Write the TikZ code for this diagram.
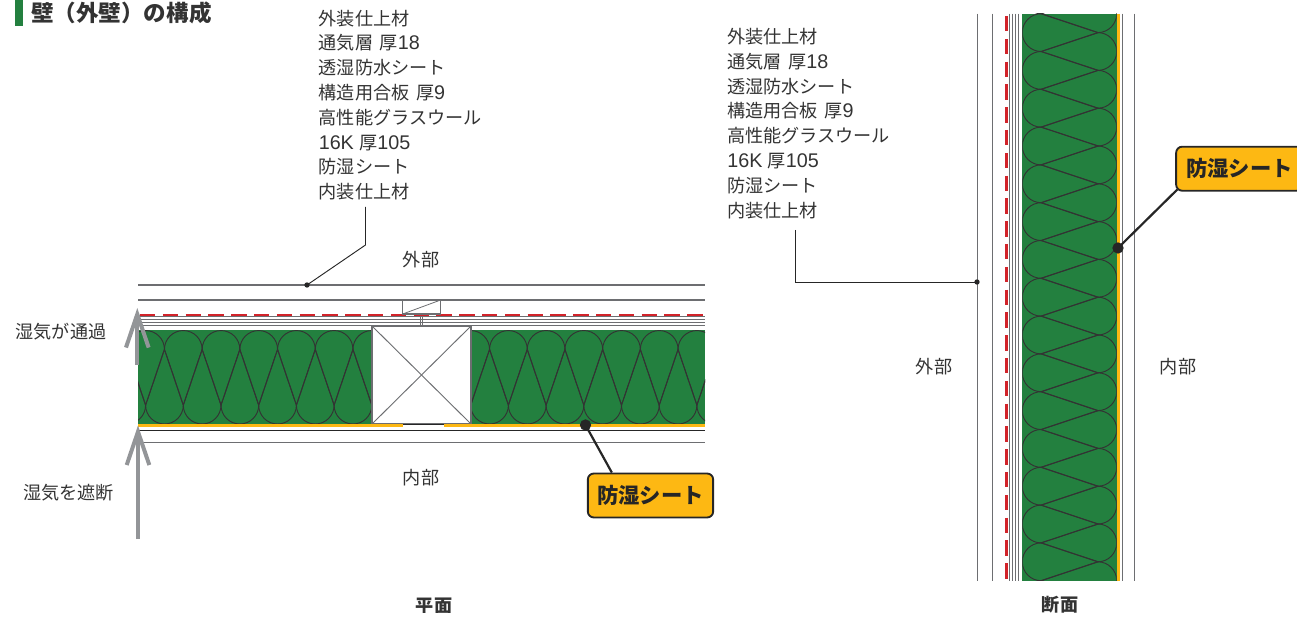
\documentclass[tikz,border=0pt]{standalone}
\usepackage{fontspec}
\usepackage{xcolor}
\setmainfont{Noto Sans CJK JP}
\newfontfamily\latinface[Scale=1.09]{Liberation Sans}
\usetikzlibrary{arrows.meta}
\usetikzlibrary{positioning}
\definecolor{woolgreen}{HTML}{23803F}
\definecolor{sheetyellow}{HTML}{FDB813}
\definecolor{airred}{HTML}{D2232A}
\definecolor{arrowgray}{HTML}{939598}
\definecolor{linegray}{HTML}{6D6E71}
\definecolor{labelgray}{HTML}{333333}
\tikzset{
  layerline/.style={draw=linegray,line width=1.1pt},
  darkline/.style={draw=black!85,line width=1pt},
  redsheet/.style={draw=airred,line width=1.7pt,dash pattern=on 11.5pt off 5.6pt},
  yellowsheet/.style={draw=sheetyellow,line width=2.2pt},
  woolline/.style={draw=black!80,line width=0.7pt},
  leaderline/.style={draw=black!85,line width=0.7pt},
  callline/.style={draw=black!85,line width=1.65pt},
  dotmark/.style={circle,fill=black!85,inner sep=0pt,minimum size=#1},
  moisture/.style={draw=arrowgray,line width=3pt,-{Straight Barb[length=25pt,width=17pt,line width=3pt]}},
  notelabel/.style={text=labelgray,font=\fontsize{13.6}{18.6}\selectfont,inner sep=0pt},
  notelist/.style={notelabel,align=left,anchor=north west},
  callbox/.style={draw=black!85,line width=1.4pt,fill=sheetyellow,rounded corners=4.5pt,
    text=black!85,font=\fontsize{16}{18}\selectfont\bfseries,inner sep=0pt,minimum height=33pt},
  viewlabel/.style={text=labelgray,font=\fontsize{13.6}{16}\selectfont\bfseries,inner sep=0pt},
}
\newcommand{\noteitems}{外装仕上材\\通気層\hspace{5pt}厚{\latinface 18}\\透湿防水シート\\構造用合板\hspace{5pt}厚{\latinface 9}\\高性能グラスウール\\{\latinface 16K}\hspace{4pt}厚{\latinface 105}\\防湿シート\\内装仕上材}
\begin{document}
\begin{tikzpicture}[x=0.75pt,y=-0.75pt]
  \useasboundingbox (0,0) rectangle (1297,620);
  % Title
  \fill[woolgreen] (15,0) rectangle (23,26);
  \node[text=labelgray,font=\fontsize{16.9}{20}\selectfont\bfseries,inner sep=0pt,anchor=west] (title) at (31,13) {壁（外壁）の構成};

  % Plan: wool
  \fill[woolgreen] (138,330.5) rectangle (372,424);
  \fill[woolgreen] (471,330.5) rectangle (705,424);
  \begin{scope}
    \clip (138,330.5) rectangle (372,424);
    \foreach \k in {-2,...,6} {
      \pgfmathsetmacro{\cx}{183.3+37.7*\k}
      \draw[woolline] (\cx-18.85,349.4) arc[start angle=180,end angle=0,radius=14.14pt] -- (\cx,405.15) -- cycle;
      \draw[woolline] (\cx,405.15) arc[start angle=180,end angle=360,radius=14.14pt] -- (\cx+18.85,349.4) -- cycle;
    }
  \end{scope}
  \begin{scope}
    \clip (471,330.5) rectangle (705,424);
    \foreach \k in {-1,...,6} {
      \pgfmathsetmacro{\cx}{508.4+37.7*\k}
      \draw[woolline] (\cx-18.85,349.4) arc[start angle=180,end angle=0,radius=14.14pt] -- (\cx,405.15) -- cycle;
      \draw[woolline] (\cx,405.15) arc[start angle=180,end angle=360,radius=14.14pt] -- (\cx+18.85,349.4) -- cycle;
    }
  \end{scope}

  % Plan: layers
  \draw[layerline] (138,285) -- (705,285);
  \draw[layerline] (138,300) -- (705,300);
  \draw[redsheet]  (140,315) -- (705,315);
  \foreach \y in {316.8,319.6,322.4,325} {
    \draw[layerline,line width=0.6pt] (138,\y) -- (705,\y);
  }
  \draw[darkline] (138,430.3) -- (705,430.3);
  \draw[layerline] (138,442.3) -- (705,442.3);

  % Plan: stud
  \draw[layerline,line width=1.2pt,fill=white] (372,326) rectangle (471,424);
  \draw[layerline,line width=0.7pt] (372,326) -- (471,424);
  \draw[layerline,line width=0.7pt] (372,424) -- (471,326);
  \draw[darkline] (403,424.4) -- (444,424.4);
  \draw[yellowsheet] (138,425.6) -- (403.3,425.6);
  \draw[yellowsheet] (444,425.6) -- (705,425.6);
  \draw[layerline,line width=0.6pt] (420.6,316) -- (420.6,326);
  \draw[layerline,line width=0.6pt] (422.8,316) -- (422.8,326);
  \draw[layerline,fill=white] (402.7,300) rectangle (440.7,314);
  \draw[layerline,line width=0.6pt] (402.7,314) -- (440.7,300);

  % Section: wool
  \fill[woolgreen] (1022.3,13.7) rectangle (1116.7,580.7);
  \begin{scope}
    \clip (1022.3,13.7) rectangle (1116.7,580.7);
    \foreach \k in {-1,...,16} {
      \pgfmathsetmacro{\cy}{32.6+37.8*\k}
      \draw[woolline] (1041.2,\cy-18.9) arc[start angle=90,end angle=270,radius=14.18pt] -- (1098.3,\cy) -- cycle;
      \draw[woolline] (1097.8,\cy-37.8) arc[start angle=90,end angle=-90,radius=14.18pt] -- (1041,\cy-18.9) -- cycle;
    }
  \end{scope}

  % Section: layers
  \foreach \x in {977.3,992.3,1122.7,1134.3} {
    \draw[layerline] (\x,13.7) -- (\x,580.7);
  }
  \foreach \x in {1009.3,1012.2,1015.2,1018.2} {
    \draw[layerline,line width=0.8pt] (\x,13.7) -- (\x,580.7);
  }
  \draw[redsheet] (1006.5,16) -- (1006.5,580.7);
  \draw[yellowsheet] (1118.3,13.7) -- (1118.3,580.7);

  % Moisture arrows
  \coordinate (ventfoot) at (137.3,365);
  \coordinate (venttip) at (137.3,308);
  \coordinate (stopfoot) at (138,539);
  \coordinate (stoptip) at (138,425.5);
  \draw[moisture] (ventfoot) -- (venttip);
  \draw[moisture] (stopfoot) -- (stoptip);

  % Labels
  \node[notelist] (plannote) at (318.5,9.5) {\noteitems};
  \node[notelist] (sectnote) at (727,28) {\noteitems};
  \node[notelabel] (planout) at (421,260) {外部};
  \node[notelabel] (planin) at (421,477.5) {内部};
  \node[notelabel] (sectout) at (934,367) {外部};
  \node[notelabel] (sectin) at (1178,367) {内部};
  \node[notelabel] (passlabel) at (61,332) {湿気が通過};
  \node[notelabel] (blocklabel) at (68.5,493) {湿気を遮断};

  % Leaders
  \coordinate (planbend) at (365.5,245);
  \coordinate (planfree) at (365.5,207);
  \node[dotmark=4pt] (plandot) at (307,285) {};
  \draw[leaderline] (planfree) -- (planbend) -- (plandot.center);
  \coordinate (sectbend) at (795,282);
  \coordinate (sectfree) at (795,230);
  \node[dotmark=4pt] (sectdot) at (977,282) {};
  \draw[leaderline] (sectfree) -- (sectbend) -- (sectdot.center);

  % Callouts
  \node[dotmark=8.5pt] (plansheet) at (585.5,425) {};
  \node[callbox,minimum width=94pt] (plancall) at (650.5,495.5) {防湿シート};
  \draw[callline] (plansheet.center) -- ([xshift=-29pt]plancall.north);
  \node[dotmark=8.5pt] (sectsheet) at (1118,248) {};
  \node[callbox,minimum width=95pt] (sectcall) at (1239.5,168.7) {防湿シート};
  \draw[callline] (sectsheet.center) -- ([xshift=1.5pt,yshift=1.5pt]sectcall.south west);

  % View names
  \begin{scope}
    \clip (0,0) rectangle (1297,612.7);
    \node[viewlabel] (planname) at (434,606) {平面};
    \node[viewlabel] (sectname) at (1060,605) {断面};
  \end{scope}
\end{tikzpicture}
\end{document}
